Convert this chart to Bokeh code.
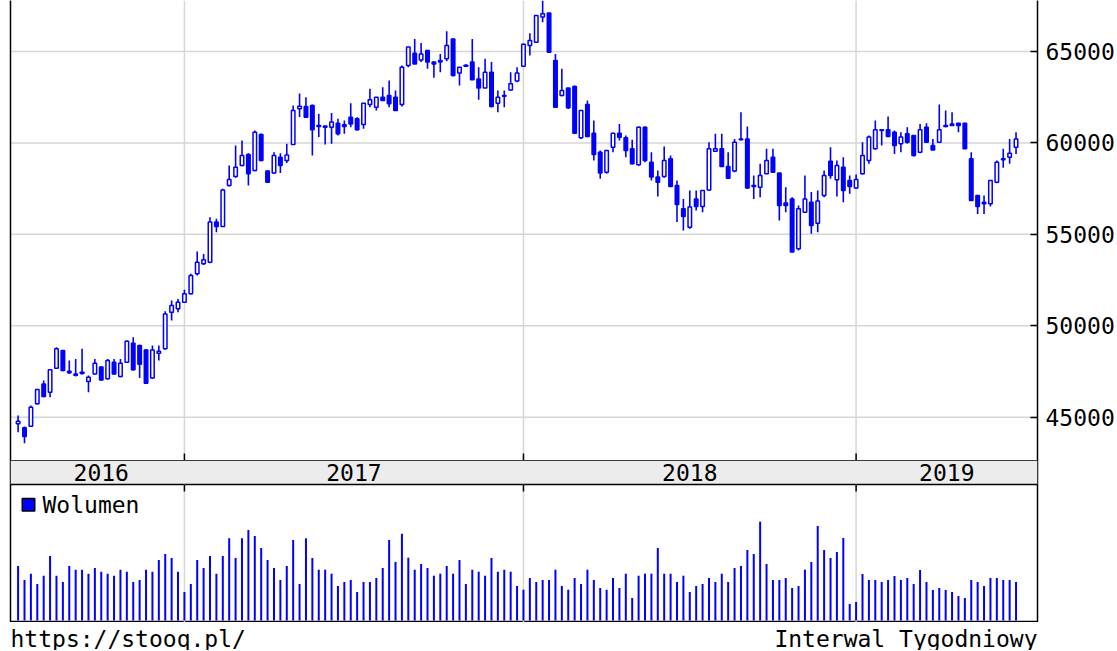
from bokeh.plotting import figure
from bokeh.layouts import column
from bokeh.models import Range1d, LinearAxis, FixedTicker, ColumnDataSource, Grid
from bokeh.embed import file_html
from bokeh.resources import INLINE
from bokeh.core.properties import value

# ---------------- data (weekly WIG candles) ----------------
years = ["2016", "2017", "2018", "2019"]
year_first_week = [0, 26, 79, 131]
price_ticks = [45000, 50000, 55000, 60000, 65000]

open_ = [44640, 44420, 44510, 45730, 46820, 46370, 47680, 48650, 47520, 47370,
         47460, 46950, 47370, 47740, 47100, 48010, 47230, 48010, 49050, 48920,
         48680, 47150, 48500, 48740, 50740, 50930, 51290, 51750, 52840, 53390,
         53480, 55670, 55430, 57670, 58160, 58770, 59370, 58490, 60460, 58460,
         58350, 59220, 59040, 59910, 61870, 61990, 62050, 60950, 60920, 60860,
         61080, 61000, 61410, 61320, 61010, 62100, 61950, 62500, 62590, 62500,
         62100, 64230, 64910, 64540, 65050, 64420, 64420, 64600, 65690, 63820,
         64200, 64420, 63500, 63010, 63870, 62170, 62550, 62900, 63380, 64200,
         65330, 65510, 66880, 67100, 64510, 62590, 63010, 63090, 60280, 62100,
         60530, 59490, 58400, 59770, 60530, 60280, 59680, 58800, 60860, 58950,
         58130, 58160, 59130, 57670, 56400, 55390, 56940, 56520, 57430, 59550,
         59680, 58710, 58460, 60220, 60220, 57670, 57580, 58310, 59220, 58350,
         56710, 56940, 54210, 56210, 56760, 55610, 57130, 59000, 57980, 58670,
         57950, 57540, 58310, 59040, 59680, 60720, 60720, 60590, 59950, 60500,
         60410, 59490, 60860, 59860, 60040, 60950, 61040, 61080, 61080, 59130,
         57130, 56760, 56670, 57850, 59130, 59220, 59770]
high = [45090, 44490, 45640, 46550, 47010, 47630, 48830, 48680, 48100, 48190,
        48740, 47280, 48190, 47770, 48190, 48190, 48190, 49190, 49380, 48960,
        48720, 48920, 48920, 50800, 51380, 51470, 51970, 52840, 54060, 53930,
        55940, 55850, 57490, 58770, 59860, 60130, 59440, 60680, 60520, 58500,
        59490, 59440, 59950, 62050, 62700, 62500, 62100, 61590, 60940, 61630,
        61320, 61230, 62170, 61410, 62170, 62960, 62500, 63050, 63410, 62870,
        64230, 65240, 65690, 65460, 65090, 64450, 64870, 66110, 65700, 64150,
        64300, 65690, 64140, 64600, 64420, 62870, 62870, 63870, 64140, 65420,
        66000, 66970, 67790, 67100, 64870, 64050, 63010, 63140, 61770, 62320,
        61230, 59590, 59590, 60530, 61040, 60410, 60170, 60900, 60900, 59490,
        58490, 59800, 59310, 57940, 56940, 57400, 57400, 57400, 60040, 60500,
        60500, 59490, 60220, 61680, 60900, 58220, 58860, 59680, 59680, 58350,
        57580, 57030, 56580, 58220, 57310, 57400, 58490, 59770, 59040, 59220,
        58220, 58270, 60040, 60410, 61230, 60730, 61450, 60680, 60590, 60860,
        60420, 61040, 61080, 60220, 62100, 61770, 61680, 61080, 61080, 59490,
        57130, 57130, 57950, 59040, 59680, 60220, 60590]
low = [44180, 43580, 44490, 45690, 46090, 46090, 47640, 47520, 47370, 47230,
       47330, 46370, 47330, 47010, 47060, 47330, 47190, 47970, 47550, 47150,
       46820, 47100, 48100, 48700, 50290, 50740, 51240, 51710, 52750, 53330,
       53420, 55120, 55400, 57620, 58090, 58720, 57670, 58450, 59000, 57820,
       58310, 58350, 58900, 59880, 61420, 61370, 59310, 60320, 59910, 59950,
       60410, 60500, 60860, 60680, 60770, 61950, 61770, 62300, 61950, 61770,
       61990, 64140, 64320, 64420, 64050, 63560, 63870, 64470, 63630, 63140,
       64150, 63450, 62360, 63000, 61950, 61680, 61950, 62870, 63320, 64150,
       64780, 65480, 66600, 64960, 61950, 62550, 61860, 60500, 60220, 60310,
       59040, 58040, 58310, 59490, 60130, 59220, 58820, 58750, 58950, 57940,
       57070, 58100, 57600, 55670, 55210, 55300, 56300, 56210, 57400, 59500,
       58700, 58040, 58400, 60150, 57490, 56940, 57030, 58300, 58350, 55760,
       56210, 54030, 54120, 56180, 55030, 55120, 57030, 58040, 57070, 56760,
       57220, 57490, 58280, 58860, 59640, 59860, 60320, 59400, 59490, 59950,
       59260, 59440, 60040, 59620, 60000, 60860, 60950, 60590, 59680, 56850,
       56120, 56120, 56520, 57800, 58640, 58860, 59400]
close = [44780, 43940, 45550, 46510, 46130, 47590, 48740, 47550, 47430, 47300,
         47390, 47190, 47950, 47040, 48100, 47370, 47950, 49160, 47590, 47900,
         46860, 48680, 48610, 50650, 51110, 51290, 51750, 52750, 53480, 53610,
         55670, 55430, 57430, 58000, 58670, 59310, 58310, 60590, 59040, 57850,
         59310, 58770, 59340, 61770, 62000, 61400, 60720, 60900, 60860, 61140,
         60500, 60900, 61040, 60720, 62170, 62360, 62500, 62320, 62140, 61770,
         64140, 65240, 64320, 64870, 64420, 64320, 64510, 65330, 63690, 64140,
         64250, 63450, 63010, 63870, 61990, 62500, 62600, 63230, 63820, 65400,
         65600, 66970, 67060, 64960, 61950, 62870, 61920, 60530, 61770, 60350,
         59370, 58350, 59590, 60530, 60310, 59590, 58860, 60860, 59040, 58130,
         57850, 59040, 57620, 56630, 55980, 56490, 56520, 57400, 59680, 59680,
         58710, 58070, 60040, 60170, 57540, 57620, 58220, 59040, 58400, 56580,
         56580, 54030, 56400, 56940, 55480, 56820, 58220, 58220, 58770, 57400,
         57620, 58000, 59310, 60320, 60720, 60680, 60350, 59860, 60320, 60040,
         59310, 60720, 60040, 59620, 60720, 60900, 60950, 60950, 59680, 56850,
         56520, 56670, 57950, 58950, 59080, 59440, 60220]
volume = [54.5, 40.5, 46.8, 36.5, 44.8, 64.5, 44.8, 38.5, 54.5, 50.8,
          50.8, 46.8, 52.5, 48.8, 46.8, 44.8, 50.8, 48.8, 38.5, 40.5,
          50.8, 48.8, 60.5, 66.5, 62.5, 48.8, 28.5, 36.5, 60.5, 52.5,
          64.5, 46.8, 64.5, 82.2, 62.5, 82.2, 90.5, 84.5, 72.5, 60.5,
          52.5, 40.5, 54.5, 80.5, 36.5, 82.2, 62.5, 50.8, 50.8, 46.8,
          34.5, 38.5, 40.5, 28.5, 38.5, 38.5, 42.5, 52.5, 80.5, 58.5,
          86.8, 62.8, 50.8, 56.5, 52.5, 44.8, 46.8, 54.5, 46.8, 60.5,
          36.5, 50.8, 48.8, 44.8, 62.5, 48.8, 50.8, 48.8, 34.5, 30.8,
          42.5, 38.5, 40.5, 40.5, 50.8, 34.5, 30.8, 42.5, 36.5, 50.8,
          40.5, 32.5, 30.8, 42.5, 32.5, 46.8, 22.5, 44.8, 46.8, 46.8,
          72.5, 46.8, 46.8, 38.5, 44.8, 28.5, 34.5, 36.5, 42.5, 38.5,
          46.8, 38.5, 52.5, 54.5, 70.5, 66.5, 98.8, 56.5, 40.5, 40.5,
          42.5, 32.5, 34.5, 50.8, 58.5, 94.5, 70.5, 62.5, 68.5, 82.5,
          16.5, 18.5, 46.5, 40.5, 40.5, 38.5, 40.5, 44.5, 40.5, 42.5,
          36.5, 50.5, 38.5, 30.5, 32.5, 30.5, 28.5, 24.5, 22.5, 40.5,
          38.5, 34.5, 42.5, 42.5, 40.5, 40.5, 38.5]

# ---------------- layout constants ----------------
FONT = "DejaVu Sans Mono"
FS = "23px"
BLUE = "#0000ff"
GRIDC = "#d6d6d6"
W = 1117
BL = 10
FW = 1027
BR = W - BL - FW
STEP = 6.397          # px per week
FIRST_PX = 7.6        # first candle offset from frame left, px
x_start = -FIRST_PX / STEP
x_end = x_start + FW / STEP
xr = Range1d(x_start, x_end)

MAIN_H = 460
PX_PER_PRICE = 91.43 / 5000.0
y_top = 65000 + 51 / PX_PER_PRICE
y_bot = y_top - MAIN_H / PX_PER_PRICE

n = len(close)
idx = list(range(n))
bounds = year_first_week[1:]


def base_fig(h, yr):
    f = figure(width=W, height=h, x_range=xr, y_range=yr, output_backend="svg",
               toolbar_location=None, x_axis_location=None, y_axis_location=None,
               min_border_left=BL, min_border_right=BR, min_border_top=0, min_border_bottom=0)
    for r in list(f.center) + list(f.renderers):
        if isinstance(r, Grid):
            r.visible = False
    f.xgrid.visible = False
    f.ygrid.visible = False
    f.outline_line_color = "black"
    f.outline_line_width = 1.5
    f.background_fill_color = "white"
    f.border_fill_color = "white"
    return f


# ---------------- main candle panel ----------------
p = base_fig(MAIN_H, Range1d(y_bot, y_top))
p.outline_line_color = None
left = LinearAxis(ticker=FixedTicker(ticks=[]), axis_line_color="black", axis_line_width=1.5,
                  major_tick_line_color=None, minor_tick_line_color=None,
                  major_label_text_font_size="0px", major_label_standoff=0,
                  major_tick_in=0, major_tick_out=0)
p.add_layout(left, "left")
right = LinearAxis(ticker=FixedTicker(ticks=price_ticks), axis_line_color="black", axis_line_width=1.5,
                   major_tick_in=7, major_tick_out=0, major_tick_line_color="black",
                   major_tick_line_width=1.5, minor_tick_line_color=None,
                   major_label_standoff=8, major_label_text_font=FONT,
                   major_label_text_font_size=FS, major_label_text_color="black")
p.add_layout(right, "right")
# grid lines drawn as plain segments (price levels and year boundaries)
p.segment(x0=[x_start] * len(price_ticks), y0=price_ticks, x1=[x_end] * len(price_ticks), y1=price_ticks,
          line_color=GRIDC, line_width=1.5)
p.segment(x0=bounds, y0=[y_bot] * len(bounds), x1=bounds, y1=[y_top] * len(bounds),
          line_color=GRIDC, line_width=1.5)

wick = ColumnDataSource(dict(x=idx, lo=low, hi=high))
p.segment(x0="x", y0="lo", x1="x", y1="hi", source=wick, line_color=BLUE, line_width=1.6)

up = [i for i in idx if close[i] >= open_[i]]
dn = [i for i in idx if close[i] < open_[i]]
src_up = ColumnDataSource(dict(x=up, top=[close[i] for i in up], bottom=[open_[i] for i in up]))
src_dn = ColumnDataSource(dict(x=dn, top=[open_[i] for i in dn], bottom=[close[i] for i in dn]))
p.vbar(x="x", width=0.55, top="top", bottom="bottom", source=src_up,
       fill_color="white", line_color=BLUE, line_width=1.5)
p.vbar(x="x", width=0.55, top="top", bottom="bottom", source=src_dn,
       fill_color=BLUE, line_color=BLUE, line_width=1.5)

tick_len = 7 / PX_PER_PRICE
p.segment(x0=bounds, y0=[y_bot] * len(bounds), x1=bounds, y1=[y_bot + tick_len] * len(bounds),
          line_color="black", line_width=1.5)

# ---------------- year band + volume panel (one canvas, px-like units) ----------------
BAND_H = 24
VOL_H = 138
vol = base_fig(BAND_H + VOL_H, Range1d(-2, BAND_H + VOL_H - 2))
vtop = VOL_H - 2                      # top of the volume area / bottom of the band
btop = vtop + BAND_H
vol.quad(left=[x_start], right=[x_end], bottom=[vtop], top=[btop],
         fill_color="#ececec", line_color=None)
vol.segment(x0=[x_start], y0=[vtop], x1=[x_end], y1=[vtop], line_color="black", line_width=1.5)
edges = [year_first_week[0]] + bounds + [x_end]
label_x = [(edges[k] + edges[k + 1]) / 2 for k in range(len(years))]
vol.text(x=label_x, y=[vtop + BAND_H / 2] * len(years), text=years, text_font=value(FONT),
         text_font_size=value(FS), text_align="center", text_baseline="middle", text_color="black")

vol.segment(x0=bounds, y0=[-2] * len(bounds), x1=bounds, y1=[vtop] * len(bounds),
            line_color=GRIDC, line_width=1.5)
vsrc = ColumnDataSource(dict(x=idx, v=volume, z=[0] * n))
vol.segment(x0="x", y0="z", x1="x", y1="v", source=vsrc, line_color=BLUE, line_width=2)
vol.segment(x0=bounds, y0=[vtop - 7] * len(bounds), x1=bounds, y1=[vtop] * len(bounds),
            line_color="black", line_width=1.5)
leg_y = vtop - 20.3
vol.rect(x=[x_start + 18 / STEP], y=[leg_y], width=12.5, height=12.5,
         width_units="screen", height_units="screen",
         fill_color=BLUE, line_color="black", line_width=1.5)
vol.text(x=[x_start + 32 / STEP], y=[leg_y], text=["Wolumen"], text_font=value(FONT),
         text_font_size=value(FS), text_align="left", text_baseline="middle", text_color="black")

# ---------------- footer ----------------
foot = base_fig(28, Range1d(0, 28))
foot.outline_line_color = None
foot.text(x=[x_start], y=[12], text=["https://stooq.pl/"], text_font=value(FONT),
          text_font_size=value(FS), text_align="left", text_baseline="middle", text_color="black")
foot.text(x=[x_end], y=[12], text=["Interwal Tygodniowy"], text_font=value(FONT),
          text_font_size=value(FS), text_align="right", text_baseline="middle", text_color="black")

layout = column(p, vol, foot, spacing=0)
open("out.html", "w").write(file_html(layout, INLINE))
